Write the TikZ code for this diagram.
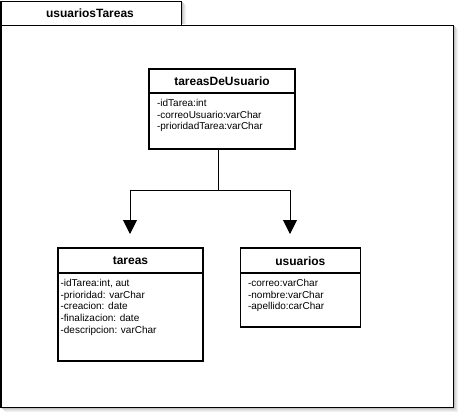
\documentclass[tikz,border=0pt]{standalone}
\usepackage{fontspec}
\setmainfont{Liberation Sans}
\usetikzlibrary{arrows.meta}
\begin{document}
\begin{tikzpicture}[x=0.75pt,y=-0.75pt,
  line width=0.9pt,
  classbox/.style={draw=black,fill=white,line width=0.9pt,inner sep=0pt},
  title/.style={font=\bfseries\fontsize{9}{11}\selectfont,inner sep=0pt},
  attrs/.style={font=\fontsize{7.5}{8.85}\selectfont,align=left,anchor=north west,inner sep=0pt},
  arr/.style={-{Triangle[length=10.5pt,width=10.5pt]},line width=0.75pt},
  link/.style={line width=0.75pt}]
\useasboundingbox (0,0) rectangle (458,412);
% shadows
\foreach \o/\c in {5/6,4/10,3/16,2/24}{
  \fill[black!\c] (\o,\o) rectangle (180.7+\o,24);
  \fill[black!\c] (\o,24+\o) rectangle (452.7+\o,406.7+\o);
}
% package
\node[classbox,minimum width=180pt*0.75/0.75,anchor=north west,minimum width=135.5pt,minimum height=18.4pt] (tab) at (0.5,0.5) {};
\node[title] (pkgname) at (90,13) {usuariosTareas};
\node[classbox,anchor=north west,minimum width=339.2pt,minimum height=286.5pt] (frame) at (0.5,24.6) {};

% tareasDeUsuario
\node[classbox,minimum width=109.5pt,minimum height=60pt] (tdu) at (222,109) {};
\draw (tdu.west |- 0,93) -- (tdu.east |- 0,93);
\node[title] (tduname) at (222,81.5) {tareasDeUsuario};
\node[attrs] (tduattrs) at (156.5,98.5) {-idTarea:int\\-correoUsuario:varChar\\-prioridadTarea:varChar};

% tareas
\node[classbox,minimum width=108.75pt,minimum height=84.75pt] (tareas) at (130.5,304.5) {};
\draw (tareas.west |- 0,273) -- (tareas.east |- 0,273);
\node[title] (tareasname) at (130.5,261) {tareas};
\node[attrs] (tareasattrs) at (60,278.5) {-idTarea:int, aut\\-prioridad: varChar\\-creacion: date\\-finalizacion: date\\-descripcion: varChar};

% usuarios
\node[classbox,minimum width=89.85pt,minimum height=59.25pt] (usuarios) at (300.4,287.5) {};
\draw (usuarios.west |- 0,273) -- (usuarios.east |- 0,273);
\node[title] (usuariosname) at (300.4,261) {usuarios};
\node[attrs] (usuariosattrs) at (247.5,278.5) {-correo:varChar\\-nombre:varChar\\-apellido:carChar};

% connectors
\coordinate (j) at (218,190);
\coordinate (t1) at (130,234);
\coordinate (t2) at (290,234);
\draw[link] (tdu.south -| j) -- (j);
\draw[arr] (j) -| (t1);
\draw[arr] (j) -| (t2);
\end{tikzpicture}
\end{document}
